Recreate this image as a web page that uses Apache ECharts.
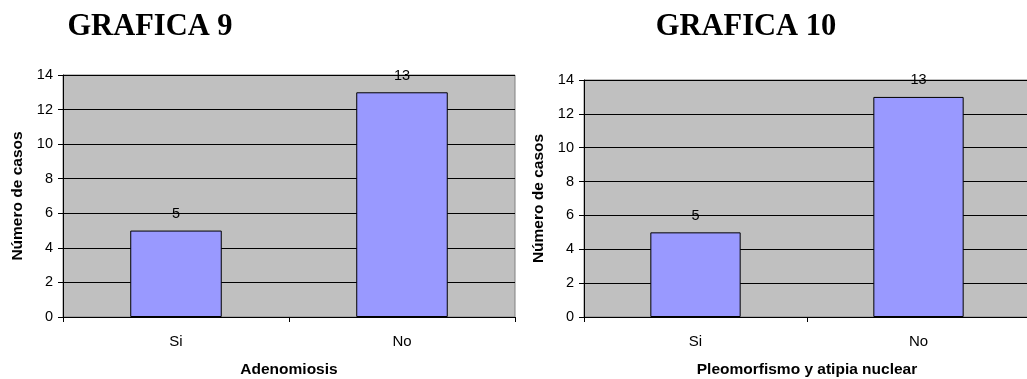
<!DOCTYPE html>
<html>
<head>
<meta charset="utf-8">
<script src="https://cdn.jsdelivr.net/npm/echarts@6/dist/echarts.min.js"></script>
<style>
  html, body { margin: 0; padding: 0; background: #ffffff; }
  #chart { width: 1027px; height: 379px; }
</style>
</head>
<body>
<div id="chart"></div>
<script>
// Two small bar charts: case counts by finding
const categories = ['Si', 'No'];
const adenomiosisValues = [5, 13];
const pleomorfismoValues = [5, 13];
const yTicks = { min: 0, max: 14, interval: 2 };
const titles = ['GRAFICA 9', 'GRAFICA 10'];
const xNames = ['Adenomiosis', 'Pleomorfismo y atipia nuclear'];
const yName = 'Número de casos';

const font = 'Arial, "Liberation Sans", Helvetica, sans-serif';

function xAxis(i) {
  return {
    type: 'category',
    gridIndex: i,
    data: categories,
    name: xNames[i],
    nameLocation: 'middle',
    nameGap: 45,
    nameTextStyle: { fontFamily: font, fontSize: 15.5, fontWeight: 'bold', color: '#000' },
    axisLine: { lineStyle: { color: '#000', width: 1 } },
    axisTick: { show: true, length: 5, lineStyle: { color: '#000' } },
    axisLabel: { fontFamily: font, fontSize: 15, color: '#000', margin: 17 }
  };
}

function yAxis(i) {
  return {
    type: 'value',
    gridIndex: i,
    min: yTicks.min,
    max: yTicks.max,
    interval: yTicks.interval,
    name: yName,
    nameLocation: 'middle',
    nameGap: 37,
    nameTextStyle: { fontFamily: font, fontSize: 15.5, fontWeight: 'bold', color: '#000' },
    axisLine: { show: true, lineStyle: { color: '#000', width: 1 } },
    axisTick: { show: true, length: 5, lineStyle: { color: '#000' } },
    axisLabel: { fontFamily: font, fontSize: 14.5, color: '#000', margin: 10 },
    splitLine: { show: true, lineStyle: { color: '#000', width: 1 } }
  };
}

function barSeries(i, values) {
  return {
    type: 'bar',
    xAxisIndex: i,
    yAxisIndex: i,
    data: values,
    barWidth: '40.5%',
    itemStyle: { color: '#9999ff', borderColor: '#000', borderWidth: 1 },
    label: {
      show: true,
      position: 'top',
      distance: 9,
      fontFamily: font,
      fontSize: 14.5,
      color: '#000'
    }
  };
}

const titleStyle = {
  fontFamily: '"Liberation Serif", "Times New Roman", serif',
  fontSize: 30.5,
  fontWeight: 'bold',
  color: '#000'
};

const gridBase = {
  show: true,
  backgroundColor: '#c0c0c0',
  borderColor: '#808080',
  borderWidth: 1,
  containLabel: false,
  outerBoundsMode: 'none'
};

const chart = echarts.init(document.getElementById('chart'), null, { renderer: 'canvas' });
chart.setOption({
  animation: false,
  backgroundColor: '#ffffff',
  title: [
    { text: titles[0], left: 145, top: 7, textAlign: 'center', textStyle: titleStyle },
    { text: titles[1], left: 741, top: 7, textAlign: 'center', textStyle: titleStyle }
  ],
  grid: [
    Object.assign({ left: 63, top: 75, right: 512, bottom: 62 }, gridBase),
    Object.assign({ left: 584, top: 80, right: -3, bottom: 62 }, gridBase)
  ],
  xAxis: [xAxis(0), xAxis(1)],
  yAxis: [yAxis(0), yAxis(1)],
  series: [barSeries(0, adenomiosisValues), barSeries(1, pleomorfismoValues)]
});
</script>
</body>
</html>
